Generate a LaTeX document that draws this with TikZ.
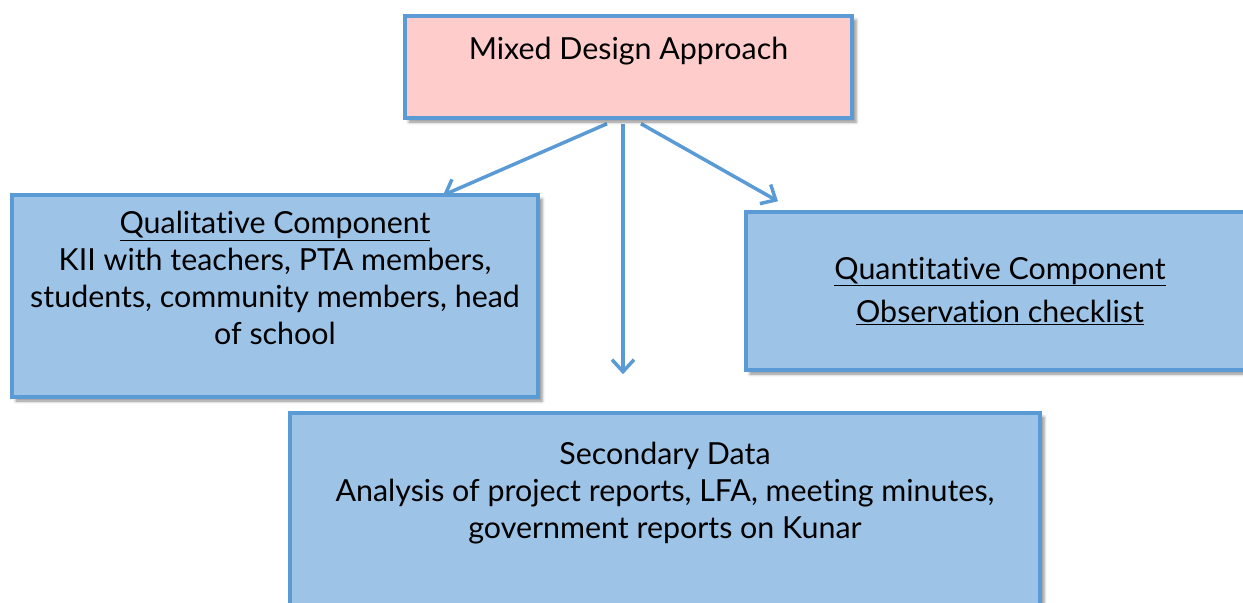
\documentclass[tikz,border=0pt]{standalone}
\usepackage{fontspec}
\setmainfont{Lato}[Ligatures=NoCommon]
\usetikzlibrary{positioning,arrows.meta,shadows.blur,backgrounds}

\definecolor{boxline}{RGB}{91,155,213}
\definecolor{boxblue}{RGB}{157,195,230}
\definecolor{boxpink}{RGB}{255,204,204}

\tikzset{
  part/.style={draw=boxline,line width=3.5bp,fill=boxblue,align=center,inner sep=0pt,
    font=\fontsize{30.5}{37}\selectfont,
    blur shadow={shadow xshift=4bp,shadow yshift=-4bp,shadow blur radius=3bp,shadow opacity=45}},
  link/.style={draw=boxline,line width=3.5bp,-{Straight Barb[length=12bp,width=22bp]}},
}

\begin{document}
\begin{tikzpicture}[line join=miter]
\useasboundingbox (0bp,0bp) rectangle (1243bp,-603bp);
%%
\node (mixed) at (628.5bp,-67bp) [part,fill=boxpink,minimum width=447bp,minimum height=102bp] {Mixed Design Approach\\ \mbox{}};
  \node (qual) at (275bp,-296bp) [part,minimum width=526bp,minimum height=202bp] {\underline{Qualitative Component}\\ KII with teachers, PTA members,\\ students, community members, head\\ of school\\ \mbox{}};
  \node (quant) at (1000bp,-291bp) [part,minimum width=508bp,minimum height=158bp] {\underline{Quantitative Component}\\[7bp] \underline{Observation checklist}};
  \node (second) at (665bp,-527bp) [part,minimum width=750bp,minimum height=228bp] {Secondary Data\\ Analysis of project reports, LFA, meeting minutes,\\ government reports on Kunar\\ \mbox{}\\ \mbox{}};
\begin{scope}[on background layer]
  \draw [link] ([xshift=-21.5bp,yshift=-4bp]mixed.south) -- ([xshift=168bp,yshift=-2bp]qual.north);
  \draw [link] ([xshift=-5.5bp,yshift=-4bp]mixed.south) -- ([xshift=-42bp,yshift=37bp]second.north);
  \draw [link] ([xshift=12.5bp,yshift=-4bp]mixed.south) -- ([xshift=-222bp,yshift=9bp]quant.north);
\end{scope}
%
\end{tikzpicture}
\end{document}
